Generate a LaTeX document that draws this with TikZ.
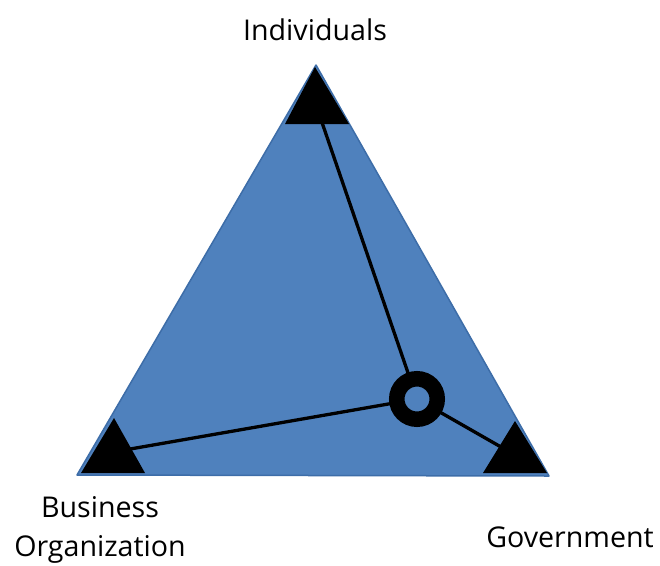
\documentclass[tikz,border=0pt]{standalone}
\usepackage{fontspec}
\setmainfont{Open Sans}
\definecolor{triblue}{HTML}{4F81BD}
\definecolor{triedge}{HTML}{3D6DA8}
\tikzset{
  label/.style={font=\fontsize{28.6}{39}\selectfont, text=black, inner sep=0pt, anchor=base, align=center},
  link/.style={line width=3.3pt, black},
  corner/.style={fill=black}
}
\begin{document}
\begin{tikzpicture}[x=1pt,y=-1pt]
\useasboundingbox (0,0) rectangle (660,565);
% main triangle
\coordinate (T) at (316,65);
\coordinate (L) at (77,475);
\coordinate (R) at (549,476);
\fill[triblue, draw=triedge, line width=1.5pt, line join=round] (T) -- (L) -- (R) -- cycle;
% centres
\coordinate (ci) at (316,105);
\coordinate (cb) at (113,452);
\coordinate (cg) at (515,455);
\coordinate (hub) at (417,399);
% links
\draw[link] (ci) -- (hub);
\draw[link] (cb) -- (hub);
\draw[link] (cg) -- (hub);
% corner triangles
\fill[corner] (315,67) -- (285,124) -- (349,124) -- cycle;
\fill[corner] (114,418) -- (81,473) -- (145,473) -- cycle;
\fill[corner] (515,421) -- (483,473) -- (547,473) -- cycle;
% hub ring
\draw[black, fill=triblue, line width=15.5pt] (hub) circle[radius=20.25];
% labels
\node[label] (ind) at (315,40) {Individuals};
\node[label] (bus) at (100,556) {Business\\Organization};
\node[label] (gov) at (570,547) {Government};
\end{tikzpicture}
\end{document}
